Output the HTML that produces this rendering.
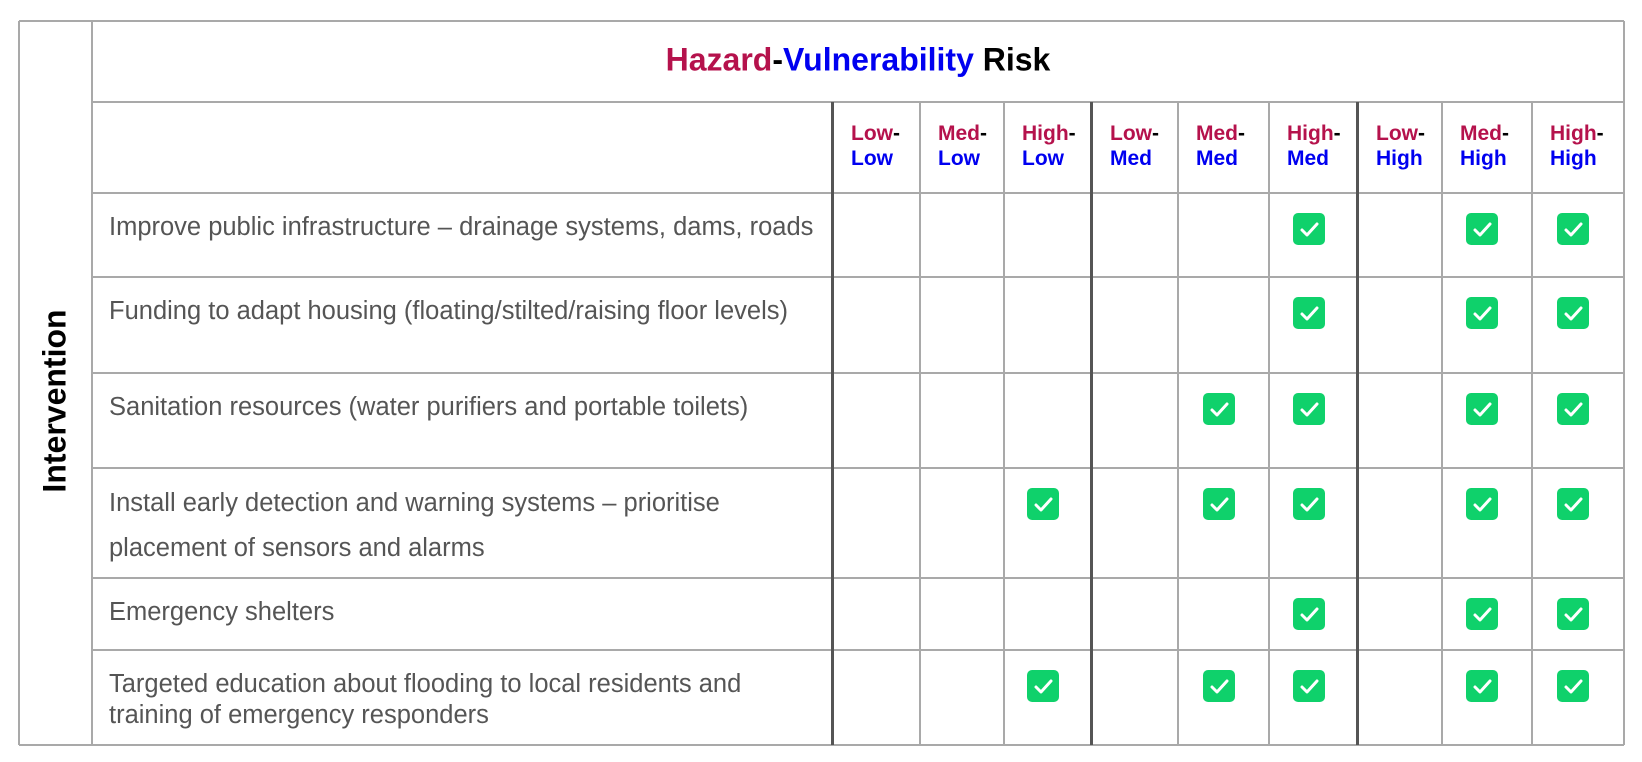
<!DOCTYPE html>
<html><head><meta charset="utf-8"><style>
body{margin:0;width:1642px;height:762px;background:#fff;position:relative;overflow:hidden;font-family:"Liberation Sans",Arial,sans-serif}
.a{position:absolute}
.hl{position:absolute;height:2px;background:#a9a9a9}
.vl{position:absolute;width:2px;background:#a9a9a9}
.txt{position:absolute;color:#555;font-size:25.5px;line-height:31px;white-space:nowrap}
.hd{position:absolute;font-weight:bold;font-size:21px;line-height:25px}
.haz{color:#b5124c}.vul{color:#0000f0}
.chk{position:absolute;width:32px;height:32px;border-radius:5px;background:#0fd16b}
</style></head><body>
<div class="a" style="left:55px;top:401px;transform:translate(-50%,-50%) rotate(-90deg);font-weight:bold;font-size:32px;white-space:nowrap">Intervention</div>
<div class="a" style="left:858px;top:60px;transform:translate(-50%,-50%);font-weight:bold;font-size:32px;white-space:nowrap"><span class="haz">Hazard</span>-<span class="vul">Vulnerability</span> Risk</div>
<div id="grid"></div>
<script>
const colsX=[92,833,920,1004,1092,1178,1269,1358,1442,1532,1624];
const rowsY=[21,102,193,277,373,468,578,650,745];
const hazards=["Low","Med","High","Low","Med","High","Low","Med","High"];
const vulns=["Low","Low","Low","Med","Med","Med","High","High","High"];
const interventions=[
 ["Improve public infrastructure – drainage systems, dams, roads"],
 ["Funding to adapt housing (floating/stilted/raising floor levels)"],
 ["Sanitation resources (water purifiers and portable toilets)"],
 ["Install early detection and warning systems – prioritise","placement of sensors and alarms"],
 ["Emergency shelters"],
 ["Targeted education about flooding to local residents and","training of emergency responders"]
];
const checks=[[5,7,8],[5,7,8],[4,5,7,8],[2,4,5,7,8],[5,7,8],[2,4,5,7,8]];
const g=document.getElementById('grid');
function add(cls,style,html){const d=document.createElement('div');d.className=cls;d.style.cssText=style;if(html)d.innerHTML=html;g.appendChild(d);return d;}
let e=add('hl','left:19px;width:1605px;top:'+(rowsY[0]-1)+'px');


e=add('hl','left:19px;width:1605px;top:'+(rowsY[8]-1)+'px');


for(let i=1;i<8;i++){
 e=add('hl','left:92px;width:1532px;top:'+(rowsY[i]-1)+'px');
 
 
}
e=add('vl','left:18px;top:21px;height:724px');


e=add('vl','left:91px;top:21px;height:724px');


e=add('vl','left:1623px;top:21px;height:724px');


for(let i=1;i<10;i++){
 const thick=(i===1||i===4||i===7);
 e=add('vl','left:'+(colsX[i]-(thick?2:1))+'px;top:102px;height:643px;'+(thick?'width:3px;background:#555':''));
 
 
}
for(let c=0;c<9;c++){
 e=add('hd','left:'+(colsX[c+1]+18)+'px;top:121px','<span class="haz">'+hazards[c]+'</span>-<br><span class="vul">'+vulns[c]+'</span>');
 
 
}
interventions.forEach((lines,r)=>{
 const top=rowsY[r+2];
 const lh=(r===3)?45:31;
 e=add('txt','left:109px;top:'+(top+19)+'px;line-height:'+lh+'px;'+(r===3?'top:'+(top+13)+'px':''),lines.join('<br>'));
 
 
 checks[r].forEach(c=>{
  const cx=(colsX[c+1]+colsX[c+2])/2-5;
  e=add('chk','left:'+(cx-16)+'px;top:'+(top+20)+'px','<svg width="32" height="32"><path d="M9 17 L14 22 L24 11" fill="none" stroke="#fff" stroke-width="3" stroke-linecap="round" stroke-linejoin="round"/></svg>');
  
  
 });
});
</script>
</body></html>
